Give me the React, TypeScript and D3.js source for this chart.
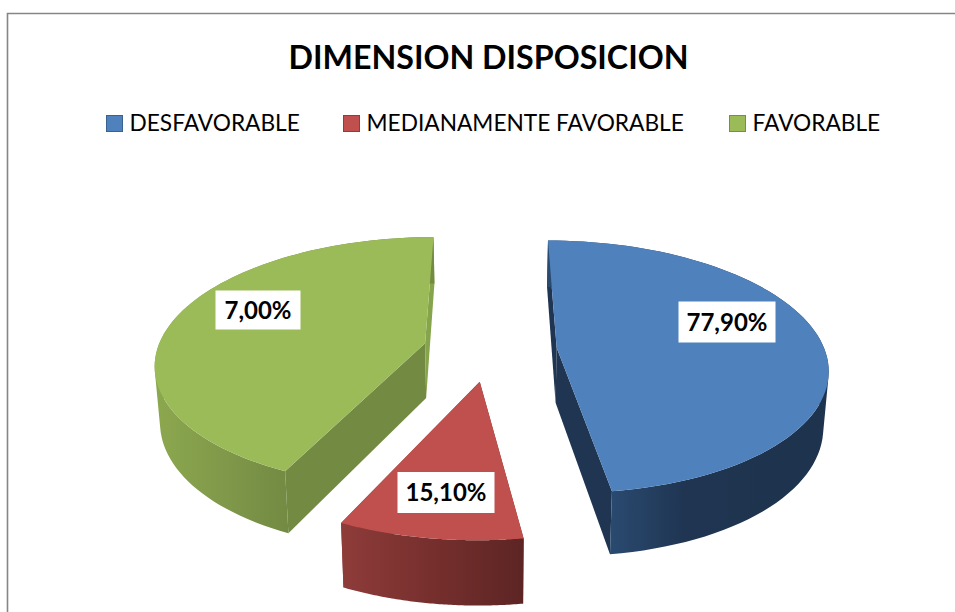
import React from "react";
import * as d3 from "d3";

const categories = ["DESFAVORABLE", "MEDIANAMENTE FAVORABLE", "FAVORABLE"];
const labelValues = [77.9, 15.1, 7.0];
// Angular sizes as drawn in the picture (the picture's slices do not follow the labels)
const drawnShares = [172, 33, 155];

const topColors = ["#4f81bd", "#c0504d", "#9bbb59"];
const swatchBorders = ["#3a6290", "#923c3a", "#76903f"];
const cutFaceColors = [["#1f3552", "#1f3552"], ["#6f2c2a", "#8c3b39"], ["#728a42", "#86a44b"]];
const wallStops = [["#2a4a70", "#1f3552", "#1e344e"], ["#8e3c3a", "#762f2d", "#5c2524"], ["#8ca84e", "#80994a", "#728a42"]];

const labelCenters = [[727, 322], [446, 492.5], [258, 310]];
const labelSizes = [[97, 41], [97, 41], [85, 39]];
const legendX = [106, 343, 729];

const cx = 490, cy = 350, Rx = 268, Ry = 124, K = 0.15, D = 55, EXPLODE = 0.25;

function project(u: number, v: number, z: number): [number, number] {
  const p = 1 / (1 - K * v);
  return [cx + Rx * u * p * (1 - 0.016 * z), cy + Ry * v * p + z * D * (1 + 0.15 * v)];
}
const line = d3.line();

function quad(a: [number, number], b: [number, number], c: [number, number], d: [number, number]) {
  const pts = [a, b, c, d];
  return (d3.polygonArea(pts) < 0 ? line(pts.slice().reverse()) : line(pts)) + "Z";
}

export default function App() {
  const arcs = d3.pie<number>().sort(null).value((d) => d).startAngle(0).endAngle(2 * Math.PI + 0.022)(drawnShares);
  const slices = arcs.map((a, i) => {
    const mid = (a.startAngle + a.endAngle) / 2;
    const ox = EXPLODE * Math.sin(mid), oy = -EXPLODE * Math.cos(mid);
    const angles = d3.range(0, 81).map((t) => a.startAngle + ((a.endAngle - a.startAngle) * t) / 80);
    const rim = (z: number) => angles.map((t) => project(ox + Math.sin(t), oy - Math.cos(t), z));
    const apex = (z: number) => project(ox, oy, z);
    const topRim = rim(0), botRim = rim(1);
    const top = line([apex(0), ...topRim])! + "Z";
    const wall = d3.range(0, 80).map((j) => quad(topRim[j], topRim[j + 1], botRim[j + 1], botRim[j])).join("");
    const faceA = line([apex(0), topRim[0], botRim[0], apex(1)])! + "Z";
    const faceB = line([apex(0), topRim[80], botRim[80], apex(1)])! + "Z";
    const xs = topRim.map((p) => p[0]);
    return { i, top, wall, faceA, faceB, x0: d3.min(xs)!, x1: d3.max(xs)! };
  });

  const font = "Lato, 'Open Sans', sans-serif";
  return (
    <svg width={955} height={612} viewBox="0 0 955 612" style={{ position: "fixed", left: 0, top: 0, background: "#fff" }}>
      <defs>
        {slices.map((s) => (
          <linearGradient key={s.i} id={`wall${s.i}`} gradientUnits="userSpaceOnUse" x1={s.i === 0 ? 610 : s.x0} x2={s.i === 0 ? 760 : s.i === 2 ? 289 : s.x1} y1={0} y2={0}>
            {wallStops[s.i].map((c, j) => (
              <stop key={j} offset={j / 2} stopColor={c} />
            ))}
          </linearGradient>
        ))}
      </defs>
      <path d="M955 13.5H7.5V612" fill="none" stroke="#868686" strokeWidth={1.6} />
      <text x={488.5} y={69} textAnchor="middle" fontFamily={font} fontWeight={700} fontSize={32.2} fill="#000">DIMENSION DISPOSICION</text>
      {categories.map((c, i) => (
        <g key={c}>
          <rect x={legendX[i] + 0.5} y={115.5} width={16} height={16} fill={topColors[i]} stroke={swatchBorders[i]} />
          <text x={legendX[i] + 23.5} y={130.5} fontFamily={font} fontSize={22.7} fill="#000">{c}</text>
        </g>
      ))}
      {slices.map((s) => (
        <g key={s.i}>
          <path d={s.faceA} fill={cutFaceColors[s.i][0]} />
          <path d={s.faceB} fill={cutFaceColors[s.i][1]} />
          <path d={s.wall} fill={`url(#wall${s.i})`} />
          <path d={s.top} fill={topColors[s.i]} />
        </g>
      ))}
      {labelValues.map((v, i) => {
        const [x, y] = labelCenters[i];
        const [w, h] = labelSizes[i];
        return (
          <g key={i}>
            <rect x={x - w / 2} y={y - h / 2} width={w} height={h} fill="#fff" />
            <text x={x} y={y + 8.5} textAnchor="middle" fontFamily={font} fontWeight={700} fontSize={24} fill="#000">
              {v.toFixed(2).replace(".", ",")}%
            </text>
          </g>
        );
      })}
    </svg>
  );
}
